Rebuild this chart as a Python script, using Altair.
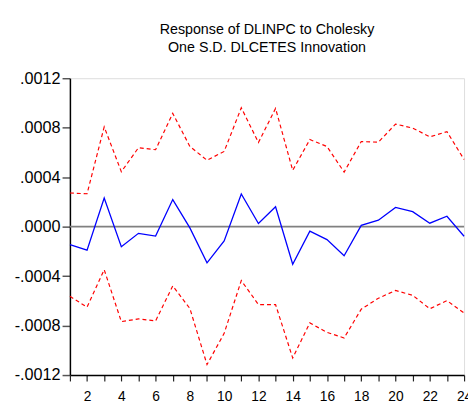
import altair as alt
import pandas as pd

periods = list(range(1, 25))
response = [-0.000145, -0.000190, 0.000232, -0.000163, -0.000054, -0.000076,
            0.000219, -0.000010, -0.000293, -0.000115, 0.000264, 0.000025,
            0.000161, -0.000304, -0.000036, -0.000105, -0.000235, 0.000010,
            0.000052, 0.000155, 0.000121, 0.000028, 0.000084, -0.000078]
upper = [0.000272, 0.000266, 0.000807, 0.000444, 0.000638, 0.000622,
         0.000916, 0.000648, 0.000537, 0.000608, 0.000961, 0.000680,
         0.000956, 0.000455, 0.000704, 0.000648, 0.000441, 0.000688,
         0.000683, 0.000829, 0.000797, 0.000726, 0.000768, 0.000543]
lower = [-0.000563, -0.000651, -0.000348, -0.000768, -0.000746, -0.000762,
         -0.000479, -0.000662, -0.001115, -0.000863, -0.000436, -0.000630,
         -0.000630, -0.001062, -0.000778, -0.000855, -0.000900, -0.000667,
         -0.000579, -0.000516, -0.000555, -0.000664, -0.000598, -0.000698]
y_ticks = [-0.0012, -0.0008, -0.0004, 0.0, 0.0004, 0.0008, 0.0012]
title_lines = ["Response of DLINPC to Cholesky", "One S.D. DLCETES Innovation"]

df = pd.DataFrame({"period": periods, "response": response,
                   "upper": upper, "lower": lower})
zero_df = pd.DataFrame({"zero": [0.0]})

FONT = "Liberation Sans"

x_enc = alt.X("period:Q",
              scale=alt.Scale(domain=[1, 24], nice=False, zero=False),
              axis=alt.Axis(title=None, values=periods, grid=False,
                            labelExpr="datum.value % 2 == 0 ? datum.label : ''",
                            labelFont=FONT, labelFontSize=14, labelColor="black",
                            tickColor="#222", tickSize=6, tickWidth=1.2,
                            domainColor="black", domainWidth=1.5,
                            labelPadding=9, labelFlush=False, labelOverlap=False))
y_scale = alt.Scale(domain=[-0.0012, 0.0012], nice=False)
y_axis = alt.Axis(title=None, values=y_ticks, grid=False,
                  labelExpr="(datum.value < 0 ? '-' : '') + replace(format(abs(datum.value), '.4f'), '0.', '.')",
                  labelFont=FONT, labelFontSize=16.5, labelColor="black",
                  tickColor="#555", tickSize=8, tickWidth=1.5,
                  domainColor="black", domainWidth=1.5, labelPadding=2)

base = alt.Chart(df)

zero = alt.Chart(zero_df).mark_rule(color="#808080", strokeWidth=1.8).encode(
    y=alt.Y("zero:Q", scale=y_scale, axis=y_axis))

up = base.mark_line(color="#FF0000", strokeDash=[4, 3], strokeWidth=1.2).encode(
    x=x_enc, y=alt.Y("upper:Q", scale=y_scale, axis=y_axis))
lo = base.mark_line(color="#FF0000", strokeDash=[4, 3], strokeWidth=1.2).encode(
    x=x_enc, y=alt.Y("lower:Q", scale=y_scale, axis=y_axis))
mid = base.mark_line(color="#0000FF", strokeWidth=1.3).encode(
    x=x_enc, y=alt.Y("response:Q", scale=y_scale, axis=y_axis))

chart = alt.layer(zero, up, lo, mid).properties(
    width=401, height=302,
    title=alt.TitleParams(text=title_lines, font=FONT, fontSize=14.5,
                          fontWeight="normal", color="black", anchor="middle",
                          lineHeight=19, offset=15),
    autosize=alt.AutoSizeParams(type="none"),
    padding={"left": 63, "top": 68, "right": 4, "bottom": 26},
).configure_view(stroke="black", strokeWidth=1.5).configure(background="white")

chart.save("out.html", embed_options={"renderer": "svg", "actions": False})
